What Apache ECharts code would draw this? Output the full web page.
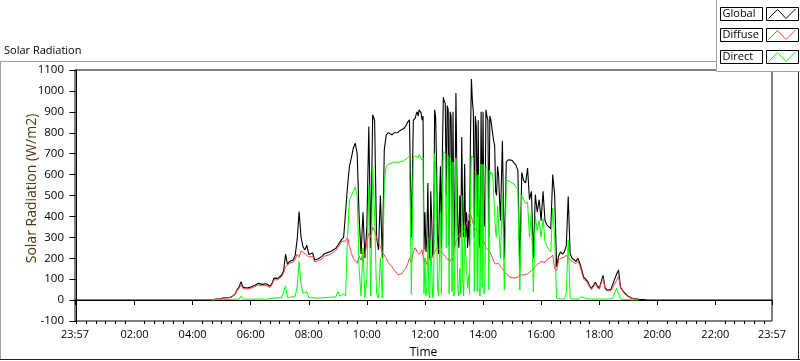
<!DOCTYPE html>
<html><head><meta charset="utf-8">
<script src="https://cdn.jsdelivr.net/npm/echarts@6/dist/echarts.min.js"></script>
<style>html,body{margin:0;padding:0;background:#fff;}#c{width:800px;height:361px;}</style>
</head><body><div id="c"></div>
<script>
// Time axis in minutes after 00:00; axis runs 23:57 -> 23:57
const AXIS_MIN = -3, AXIS_MAX = 1437;
const xLabelValues = [-3, 120, 240, 360, 480, 600, 720, 840, 960, 1080, 1200, 1320, 1437];
const yMin = -100, yMax = 1100, yStep = 100;

// Segment 1: 04:40 .. 11:36, every 4 minutes
const seg1Start = 280, seg1Step = 4;
const seg1Global = [
  0, 3, 5, 5, 5, 8, 11, 11, 11, 12,
  14, 18, 30, 50, 62, 88, 62, 56, 58, 55,
  62, 68, 70, 75, 80, 72, 75, 70, 78, 73,
  66, 80, 105, 112, 104, 106, 120, 140, 220, 170,
  184, 188, 192, 215, 290, 423, 300, 255, 240, 262,
  218, 214, 225, 192, 195, 198, 205, 210, 222, 218,
  228, 232, 236, 242, 248, 262, 270, 290, 300, 295,
  543, 640, 680, 727, 750, 700, 400, 220, 420, 200,
  350, 830, 250, 886, 860, 300, 240, 500, 200, 720,
  790, 800, 795, 790, 800, 805, 800, 810, 815, 820,
  830, 850, 862, 300, 860
];
const seg1Diffuse = [
  0, 2, 4, 4, 4, 7, 10, 10, 10, 11,
  13, 16, 27, 46, 57, 72, 56, 52, 53, 50,
  56, 62, 64, 68, 72, 66, 68, 64, 70, 66,
  60, 74, 96, 104, 98, 100, 112, 130, 160, 160,
  176, 180, 182, 195, 220, 205, 235, 230, 222, 230,
  205, 200, 210, 182, 185, 188, 192, 198, 210, 206,
  215, 220, 224, 232, 238, 250, 258, 280, 285, 282,
  300, 260, 224, 200, 208, 176, 210, 190, 230, 210,
  280, 320, 300, 350, 330, 300, 270, 255, 230, 215,
  200, 180, 170, 160, 145, 135, 122, 118, 125, 140,
  150, 170, 200, 180, 230
];
const seg1Direct = [
  0, 3, 3, 3, 3, 3, 3, 3, 3, 3,
  3, 4, 4, 4, 5, 19, 5, 4, 4, 3,
  4, 5, 4, 5, 5, 4, 5, 5, 4, 5,
  6, 8, 10, 10, 11, 12, 12, 14, 67, 12,
  12, 14, 13, 20, 64, 184, 80, 32, 28, 40,
  11, 10, 12, 10, 9, 10, 10, 11, 12, 10,
  13, 12, 14, 18, 15, 40, 18, 25, 30, 20,
  300, 480, 500, 520, 540, 500, 150, 20, 250, 10,
  100, 550, 20, 640, 400, 30, 10, 200, 10, 560,
  640, 650, 645, 655, 650, 660, 655, 660, 665, 665,
  670, 680, 690, 30, 680
];

// Segment 2: 11:40 .. 14:30, every 2 minutes
const seg2Start = 700, seg2Step = 2;
const seg2Global = [
  870, 890, 900, 880, 910, 905, 895, 860, 880, 240,
  420, 230, 300, 560, 250, 200, 520, 380, 210, 260,
  910, 880, 650, 300, 220, 460, 640, 250, 700, 970,
  950, 940, 500, 930, 910, 260, 900, 880, 300, 900,
  250, 480, 990, 600, 350, 250, 500, 300, 780, 400,
  300, 650, 300, 420, 250, 380, 260, 780, 1057, 950,
  900, 300, 880, 830, 400, 860, 280, 250, 900, 350,
  900, 350, 400, 910, 880, 860, 300, 880, 863, 870,
  863, 760, 740, 520, 500, 640
];
const seg2Diffuse = [
  250, 240, 230, 235, 220, 225, 230, 240, 240, 180,
  200, 180, 170, 210, 200, 190, 210, 200, 200, 195,
  230, 240, 250, 250, 250, 240, 235, 230, 230, 220,
  215, 210, 200, 195, 190, 200, 185, 180, 200, 190,
  240, 260, 280, 290, 300, 310, 320, 315, 310, 320,
  330, 340, 350, 370, 380, 400, 420, 410, 400, 380,
  360, 350, 340, 335, 330, 320, 310, 300, 295, 290,
  290, 280, 270, 250, 245, 240, 235, 230, 220, 210,
  200, 185, 176, 172, 170, 175
];
const seg2Direct = [
  690, 690, 690, 680, 695, 690, 690, 670, 680, 30,
  200, 20, 60, 300, 30, 10, 280, 150, 10, 40,
  700, 650, 420, 60, 20, 200, 420, 30, 480, 710,
  705, 700, 250, 700, 690, 30, 680, 660, 40, 660,
  20, 200, 680, 300, 50, 20, 150, 30, 500, 100,
  20, 350, 220, 150, 60, 120, 30, 500, 690, 685,
  680, 40, 620, 580, 40, 600, 30, 20, 650, 60,
  650, 30, 80, 640, 640, 620, 50, 620, 600, 610,
  600, 600, 600, 320, 300, 450
];

// Segment 3: 14:32 .. 19:56, every 4 minutes
const seg3Start = 872, seg3Step = 4;
const seg3Global = [
  600, 380,
  762, 200, 660, 671, 665, 668, 660, 645, 620, 150,
  610, 570, 560, 631, 480, 520, 200, 505, 420, 480,
  380, 520, 380, 360, 350, 340, 600, 500, 160, 210,
  230, 220, 230, 260, 495, 220, 200, 195, 185, 200,
  176, 184, 110, 100, 90, 70, 55, 50, 85, 70,
  56, 60, 118, 60, 48, 48, 50, 50, 100, 125,
  144, 60, 55, 35, 30, 18, 12, 8, 7, 6,
  3, 3, 2, 2, 8, 0, 0, 0, 0, 0
];
const seg3Diffuse = [
  176, 160,
  150, 144, 125, 120, 110, 115, 105, 100, 110, 120,
  125, 120, 115, 125, 130, 140, 145, 160, 170, 170,
  185, 190, 180, 195, 200, 205, 215, 150, 140, 190,
  200, 200, 205, 215, 200, 195, 185, 180, 175, 185,
  165, 170, 100, 92, 82, 65, 50, 46, 78, 62,
  52, 55, 105, 54, 44, 44, 45, 45, 75, 95,
  112, 56, 50, 32, 28, 16, 10, 7, 6, 5,
  3, null, null, null, null, null, null, null, null, null
];
const seg3Direct = [
  450, 200,
  500, 48, 575, 575, 565, 560, 555, 540, 530, 48,
  500, 480, 460, 470, 300, 420, 40, 400, 330, 380,
  300, 390, 280, 260, 240, 230, 440, 300, 10, 5,
  5, 5, 5, 30, 288, 8, 5, 4, 4, 5,
  8, 16, 10, 8, 6, 5, 5, 5, 5, 5,
  5, 5, 5, 5, 5, 5, 5, 8, 35, 56,
  64, 5, 3, 3, 3, 2, 2, 1, 1, 1,
  0, null, null, null, null, null, null, null, null, null
];

const seriesNames = ['Global', 'Diffuse', 'Direct'];
const seriesColors = ['#000000', '#ff4040', '#00ff00'];

function pairs(start, step, vals) { return vals.map((v, i) => [start + i * step, v]); }
function build(a, b, c) {
  return pairs(seg1Start, seg1Step, a).concat(pairs(seg2Start, seg2Step, b), pairs(seg3Start, seg3Step, c));
}
const globalData = [[AXIS_MIN, 0]].concat(build(seg1Global, seg2Global, seg3Global), [[AXIS_MAX, 0]]);
const diffuseData = build(seg1Diffuse, seg2Diffuse, seg3Diffuse);
const directData = build(seg1Direct, seg2Direct, seg3Direct);

const minorTicks = [];
for (let m = 0; m < AXIS_MAX; m += 20) if (m === 0 || m % 120 !== 0) minorTicks.push(m);

function fmtTime(v) {
  let m = Math.round(v); if (m < 0) m += 1440;
  const h = Math.floor(m / 60) % 24, mm = m % 60;
  return String(h).padStart(2, '0') + ':' + String(mm).padStart(2, '0');
}

const FONT = '"Open Sans", "Noto Sans", sans-serif';
const chart = echarts.init(document.getElementById('c'), null, {renderer: 'canvas'});

const legendGraphics = [];
const rowTops = [7.5, 28.5, 50.5];
rowTops.forEach((y0, i) => {
  legendGraphics.push({type: 'rect', z: 102, shape: {x: 720.5, y: y0, width: 42, height: 13}, style: {fill: '#fff', stroke: '#000', lineWidth: 1}});
  legendGraphics.push({type: 'text', z: 103, x: 722.5, y: y0 + 6.5, style: {text: seriesNames[i], fill: '#000', font: '11px ' + FONT, verticalAlign: 'middle'}});
  legendGraphics.push({type: 'rect', z: 102, shape: {x: 766.5, y: y0, width: 32, height: 13}, style: {fill: '#fff', stroke: '#000', lineWidth: 1}});
  legendGraphics.push({type: 'polyline', z: 103, shape: {points: [[768.5, y0 + 11], [777.5, y0 + 2], [786, y0 + 11], [795.5, y0 + 1.5]]}, style: {stroke: seriesColors[i], lineWidth: 1, fill: null}});
});

chart.setOption({
  animation: false,
  backgroundColor: '#fff',
  textStyle: {fontFamily: FONT},
  title: {text: 'Solar Radiation', left: 4, top: 45, padding: 0, textStyle: {fontSize: 11, fontWeight: 'normal', color: '#000', fontFamily: FONT}},
  grid: {left: 75, top: 70, right: 28, bottom: 40, outerBoundsMode: 'none', containLabel: false, show: true, borderColor: '#000', borderWidth: 1, backgroundColor: 'transparent'},
  xAxis: [{
    type: 'value', min: AXIS_MIN, max: AXIS_MAX,
    name: 'Time', nameLocation: 'middle', nameGap: 26,
    nameTextStyle: {fontSize: 12, color: '#000', fontFamily: FONT},
    axisLine: {show: true, lineStyle: {color: '#000', width: 1}},
    axisTick: {show: true, customValues: xLabelValues, length: 5, lineStyle: {color: '#000'}},
    axisLabel: {customValues: xLabelValues, formatter: fmtTime, fontSize: 11, color: '#000', margin: 8, fontFamily: FONT},
    splitLine: {show: false}
  }, {
    type: 'value', min: AXIS_MIN, max: AXIS_MAX, position: 'bottom',
    axisLine: {show: false}, axisLabel: {show: false}, splitLine: {show: false},
    axisTick: {show: true, customValues: minorTicks, length: 3, lineStyle: {color: '#000'}}
  }],
  yAxis: {
    type: 'value', min: yMin, max: yMax, interval: yStep,
    name: 'Solar Radiation (W/m2)', nameLocation: 'middle', nameGap: 36, nameRotate: 90, nameMoveOverlap: false,
    nameTextStyle: {fontSize: 14, color: '#4d3a10', fontFamily: FONT, padding: [0, 0, 0, 14]},
    axisLine: {show: true, lineStyle: {color: '#000'}},
    axisTick: {show: true, length: 7, lineStyle: {color: '#000'}},
    axisLabel: {fontSize: 11.5, color: '#000', margin: 11, fontFamily: FONT, formatter: v => String(v)},
    splitLine: {show: false}
  },
  series: [
    {name: seriesNames[0], type: 'line', data: globalData, showSymbol: false, symbol: 'none', lineStyle: {color: seriesColors[0], width: 1.1}, z: 2},
    {name: seriesNames[1], type: 'line', data: diffuseData, showSymbol: false, symbol: 'none', lineStyle: {color: seriesColors[1], width: 1}, z: 3},
    {name: seriesNames[2], type: 'line', data: directData, showSymbol: false, symbol: 'none', lineStyle: {color: seriesColors[2], width: 1}, z: 4}
  ],
  graphic: [
    {type: 'line', z: 50, shape: {x1: 0, y1: 61.5, x2: 717, y2: 61.5}, style: {stroke: '#a0a0a0', lineWidth: 1}},
    {type: 'line', z: 50, shape: {x1: 0.5, y1: 61.5, x2: 0.5, y2: 360}, style: {stroke: '#a0a0a0', lineWidth: 1}},
    {type: 'line', z: 50, shape: {x1: 0, y1: 359.5, x2: 800, y2: 359.5}, style: {stroke: '#202020', lineWidth: 1}},
    {type: 'line', z: 50, shape: {x1: 798.5, y1: 72, x2: 798.5, y2: 360}, style: {stroke: '#202020', lineWidth: 1}},
    {type: 'rect', z: 100, shape: {x: 716.5, y: -1, width: 90, height: 72.5}, style: {fill: '#fff', stroke: '#a0a0a0', lineWidth: 1}}
  ].concat(legendGraphics)
});
</script></body></html>
